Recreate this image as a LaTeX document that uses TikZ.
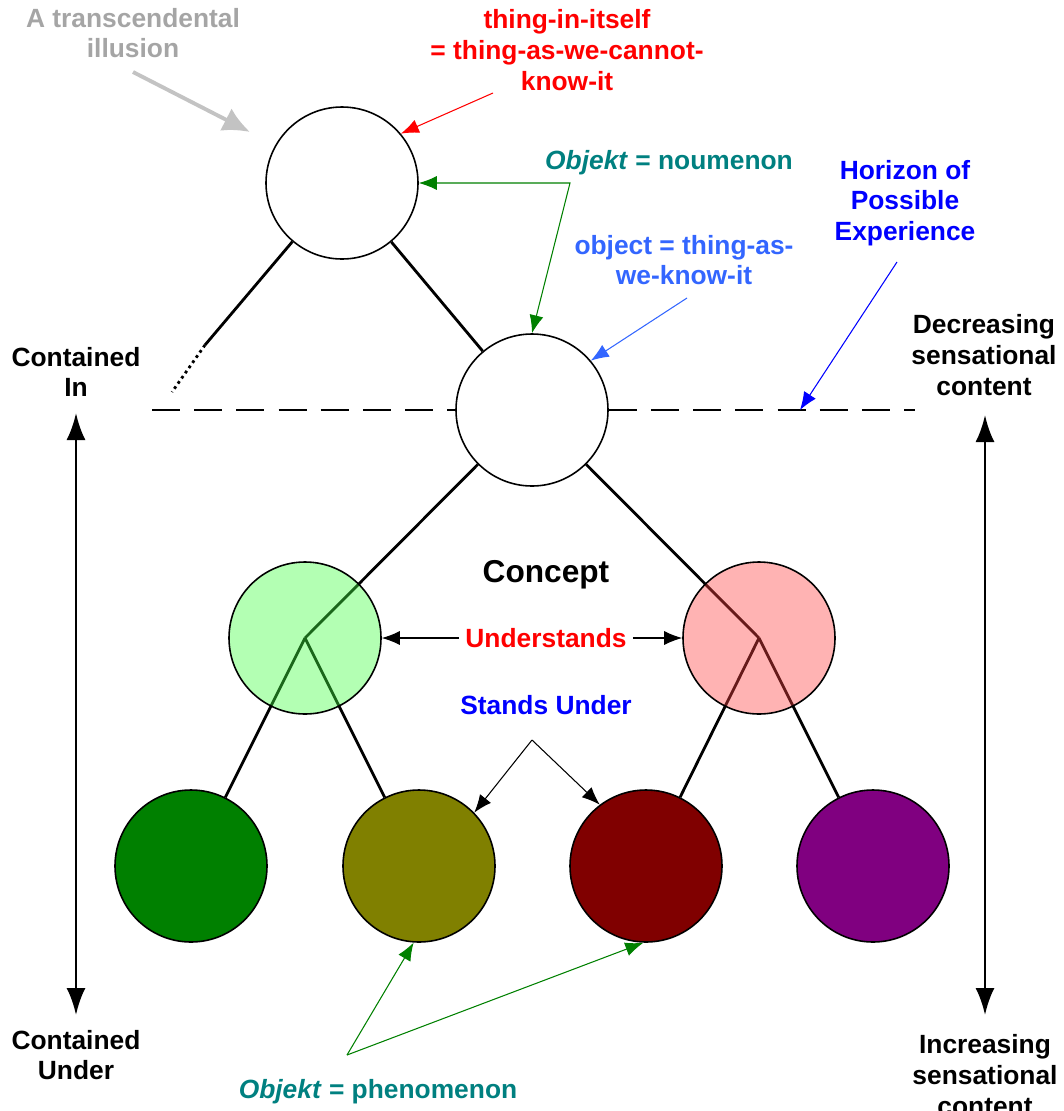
\documentclass[tikz,border=0pt]{standalone}
\usepackage{fontspec}
\setmainfont{Liberation Sans}
\usepackage{tikz}
\usetikzlibrary{arrows.meta,positioning,backgrounds}
\definecolor{illusiongray}{RGB}{165,165,165}
\definecolor{illusionarrow}{RGB}{195,195,195}
\definecolor{objektteal}{RGB}{0,128,128}
\definecolor{objectblue}{RGB}{51,102,255}
\definecolor{horizonblue}{RGB}{0,0,255}
\definecolor{kantgreen}{RGB}{0,128,0}
\definecolor{kantolive}{RGB}{128,128,0}
\definecolor{kantmaroon}{RGB}{128,0,0}
\definecolor{kantpurple}{RGB}{128,0,128}
\definecolor{conceptgreen}{RGB}{65,255,65}
\definecolor{conceptpink}{RGB}{255,65,65}
\begin{document}
\begin{tikzpicture}[
    x=0.2mm, y=-0.2mm,
    font=\bfseries\fontsize{15}{17.5}\selectfont,
    >={Latex[length=3.6mm, width=2.8mm]},
    ball/.style={circle, draw, line width=0.9pt, minimum size=30.4mm, inner sep=0pt, fill=#1},
    note/.style={align=center, text=#1},
    branch/.style={line width=1.6pt},
    pointer/.style={line width=0.6pt, ->},
    span/.style={line width=1.6pt, >={Latex[length=5.4mm, width=3.8mm]}, <->},
    horizon/.style={line width=1.1pt, dash pattern=on 16pt off 8pt},
  ]
  \useasboundingbox (0,0) rectangle (1064,1111);

  \node[ball=white] (top) at (342,183) {};
  \node[ball=white] (mid) at (532,410) {};
  \node[ball=conceptgreen, fill opacity=0.4] (lgreen) at (305,638) {};
  \node[ball=conceptpink, fill opacity=0.4] (pink) at (759,638) {};
  \node[ball=kantgreen] (dkgreen) at (191,866) {};
  \node[ball=kantolive] (olive) at (419,866) {};
  \node[ball=kantmaroon] (dkred) at (646,866) {};
  \node[ball=kantpurple] (purple) at (873,866) {};

  \coordinate (brk) at (205,345);
  \coordinate (lend) at (172,392);
  \coordinate (hl) at (152,410);
  \coordinate (hr) at (915,410);
  \coordinate (nbend) at (570,183);
  \coordinate (illtail) at (133,72);
  \coordinate (illtip) at (250,132);
  \coordinate (itstail) at (493,93);
  \coordinate (objtail) at (687,298);
  \coordinate (hortail) at (897,262);
  \coordinate (hortip) at (800,410);
  \coordinate (sutail) at (532,740);
  \coordinate (phtail) at (347,1055);
  \coordinate (inTop) at (76,413);
  \coordinate (inBot) at (76,1015);
  \coordinate (sensTop) at (985,415);
  \coordinate (sensBot) at (985,1015);

  \begin{scope}[on background layer]
    \draw[branch] (top) -- (brk);
    \draw[branch, dotted] (brk) -- (lend);
    \draw[branch] (top) -- (mid);
    \draw[branch] (mid) -- (lgreen.center);
    \draw[branch] (mid) -- (pink.center);
    \draw[branch] (lgreen.center) -- (dkgreen);
    \draw[branch] (lgreen.center) -- (olive);
    \draw[branch] (pink.center) -- (dkred);
    \draw[branch] (pink.center) -- (purple);
  \end{scope}

  \draw[horizon] (hl) -- (mid.west);
  \draw[horizon] (mid.east) -- (hr);

  \node[note=illusiongray] (illus) at (133,33) {A transcendental\\illusion};
  \node[note=red] (itself) at (567,50) {thing-in-itself\\= thing-as-we-cannot-\\know-it};
  \node[note=objektteal] (noum) at (669,163) {\textit{Objekt} = noumenon};
  \node[note=objectblue] (obj) at (684,260) {object = thing-as-\\we-know-it};
  \node[note=horizonblue] (horizon) at (905,203) {Horizon of\\Possible\\Experience};
  \node[note=black] (decr) at (984,355) {Decreasing\\sensational\\content};
  \node[note=black] (cin) at (76,372) {Contained\\In};
  \node[note=black, font=\bfseries\fontsize{18}{21}\selectfont] (concept) at (546,575) {Concept};
  \node[note=red] (und) at (546,638) {Understands};
  \node[note=horizonblue] (stands) at (546,705) {Stands Under};
  \node[note=black] (cunder) at (76,1055) {Contained\\Under};
  \node[note=black] (incr) at (985,1075) {Increasing\\sensational\\content};
  \node[note=objektteal] (phen) at (378,1092) {\textit{Objekt} = phenomenon};

  \draw[line width=2.2pt, illusionarrow, -{Latex[length=5.4mm, width=5mm]}] (illtail) -- (illtip);
  \draw[pointer, red] (itstail) -- (top.40);
  \draw[pointer, kantgreen, <->] (top.east) -- (nbend) -- (mid.north);
  \draw[pointer, objectblue] (objtail) -- (mid.40);
  \draw[pointer, horizonblue] (hortail) -- (hortip);
  \draw[pointer] (und.west) -- (lgreen.east);
  \draw[pointer] (und.east) -- (pink.west);
  \draw[pointer] (sutail) -- (olive.44);
  \draw[pointer] (sutail) -- (dkred.127);
  \draw[pointer, kantgreen] (phtail) -- (olive.-94);
  \draw[pointer, kantgreen] (phtail) -- (dkred.-92);
  \draw[span] (inTop) -- (inBot);
  \draw[span] (sensTop) -- (sensBot);
\end{tikzpicture}
\end{document}
